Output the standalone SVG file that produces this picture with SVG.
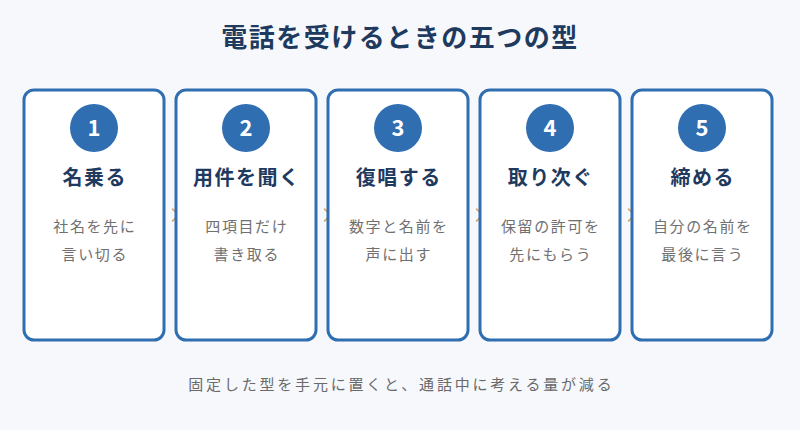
<svg xmlns="http://www.w3.org/2000/svg" width="800" height="430" viewBox="0 0 800 430">
<style>
text{font-family:"Noto Sans CJK JP","Noto Sans",sans-serif}
.title{font-size:26px;font-weight:700;fill:#1f3a5f;letter-spacing:1.5px}
.card{fill:#ffffff;stroke:#2f6eb0;stroke-width:3}
.num{fill:#2f6eb0}
.numt{font-size:22px;font-weight:700;fill:#ffffff;font-family:"Noto Sans CJK JP","Noto Sans",sans-serif}
.head{font-size:20px;font-weight:700;fill:#1f3a5f;letter-spacing:1.5px}
.desc{font-size:15px;fill:#707070;letter-spacing:1.6px}
.foot{font-size:15px;fill:#6a6a6a;letter-spacing:2.8px}
.arr{fill:none;stroke:#e39b4a;stroke-width:1.5;stroke-linecap:round;stroke-linejoin:round}
</style>
<rect width="800" height="430" fill="#f6f8fc"/>
<text class="title" x="400" y="47" text-anchor="middle">電話を受けるときの五つの型</text>
<g id="connectors">
<polyline class="arr" points="172.5,209 178.5,215 172.5,221"/>
<polyline class="arr" points="324.5,209 330.5,215 324.5,221"/>
<polyline class="arr" points="476.5,209 482.5,215 476.5,221"/>
<polyline class="arr" points="628.5,209 634.5,215 628.5,221"/>
</g>
<g id="step1">
<rect class="card" x="24" y="90" width="140" height="250" rx="10"/>
<circle class="num" cx="94" cy="128" r="24"/>
<text class="numt" x="94" y="136" text-anchor="middle">1</text>
<text class="head" x="94.75" y="185" text-anchor="middle">名乗る</text>
<text class="desc" x="94.8" y="232" text-anchor="middle">社名を先に</text>
<text class="desc" x="94.8" y="260" text-anchor="middle">言い切る</text>
</g>
<g id="step2">
<rect class="card" x="176" y="90" width="140" height="250" rx="10"/>
<circle class="num" cx="246" cy="128" r="24"/>
<text class="numt" x="246" y="136" text-anchor="middle">2</text>
<text class="head" x="246.75" y="185" text-anchor="middle">用件を聞く</text>
<text class="desc" x="246.8" y="232" text-anchor="middle">四項目だけ</text>
<text class="desc" x="246.8" y="260" text-anchor="middle">書き取る</text>
</g>
<g id="step3">
<rect class="card" x="328" y="90" width="140" height="250" rx="10"/>
<circle class="num" cx="398" cy="128" r="24"/>
<text class="numt" x="398" y="136" text-anchor="middle">3</text>
<text class="head" x="398.75" y="185" text-anchor="middle">復唱する</text>
<text class="desc" x="398.8" y="232" text-anchor="middle">数字と名前を</text>
<text class="desc" x="398.8" y="260" text-anchor="middle">声に出す</text>
</g>
<g id="step4">
<rect class="card" x="480" y="90" width="140" height="250" rx="10"/>
<circle class="num" cx="550" cy="128" r="24"/>
<text class="numt" x="550" y="136" text-anchor="middle">4</text>
<text class="head" x="550.75" y="185" text-anchor="middle">取り次ぐ</text>
<text class="desc" x="550.8" y="232" text-anchor="middle">保留の許可を</text>
<text class="desc" x="550.8" y="260" text-anchor="middle">先にもらう</text>
</g>
<g id="step5">
<rect class="card" x="632" y="90" width="140" height="250" rx="10"/>
<circle class="num" cx="702" cy="128" r="24"/>
<text class="numt" x="702" y="136" text-anchor="middle">5</text>
<text class="head" x="702.75" y="185" text-anchor="middle">締める</text>
<text class="desc" x="702.8" y="232" text-anchor="middle">自分の名前を</text>
<text class="desc" x="702.8" y="260" text-anchor="middle">最後に言う</text>
</g>
<text class="foot" x="401.4" y="390" text-anchor="middle">固定した型を手元に置くと、通話中に考える量が減る</text>
</svg>
